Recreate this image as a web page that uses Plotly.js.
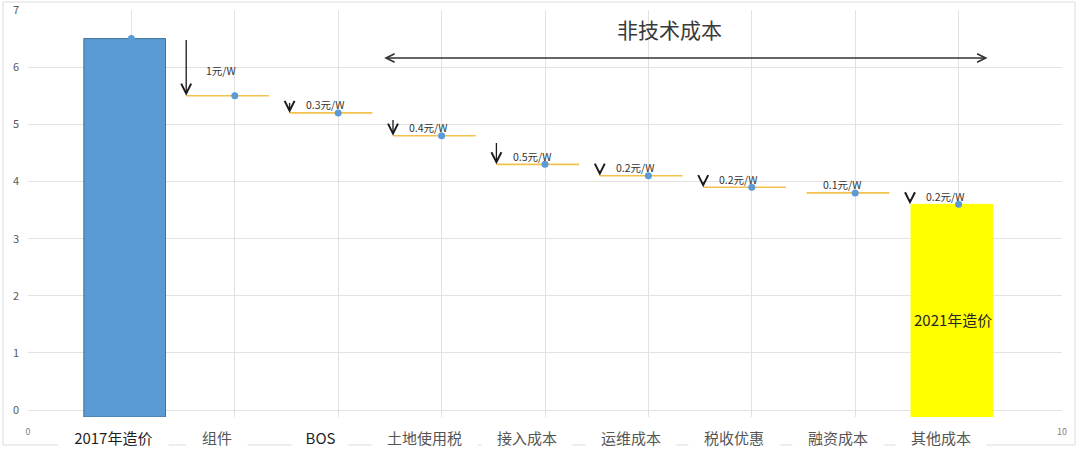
<!DOCTYPE html>
<html>
<head>
<meta charset="utf-8">
<script src="https://cdn.plot.ly/plotly-3.0.1.min.js"></script>
<style>
html, body { margin: 0; padding: 0; background: #fff; }
#graph_area { width: 1080px; height: 449px; }
</style>
</head>
<body>
<div id="graph_area"></div>
<script>
// 造价分解 (元/W)
const steps = ["2017年造价", "组件", "BOS", "土地使用税", "接入成本", "运维成本", "税收优惠", "融资成本", "其他成本"];
const stepX = [1, 2, 3, 4, 5, 6, 7, 8, 9];
const price = [6.5, 5.5, 5.2, 4.8, 4.3, 4.1, 3.9, 3.8, 3.6];
const drop = [null, 1, 0.3, 0.4, 0.5, 0.2, 0.2, 0.1, 0.2];
const dropUnit = "元/W";
const groupTitle = "非技术成本";
const endLabel = "2021年造价";
const xTicks = [0, 1, 2, 3, 4, 5, 6, 7, 8, 9, 10];
const yTicks = [0, 1, 2, 3, 4, 5, 6, 7];

const FONT = '"Noto Sans CJK SC", "Noto Sans", sans-serif';
const BASE = -0.12;
const last = price.length - 1;

// rough text width so the white label boxes break the bottom frame line
function textWidth(s, size) {
    let w = 0;
    for (const ch of s) w += ch.charCodeAt(0) > 255 ? size : size * 0.56;
    return w;
}

const bars = {
    type: "bar",
    x: [stepX[0], stepX[last]],
    y: [price[0] - BASE, price[last] - BASE],
    base: BASE,
    width: 0.79,
    offset: -0.46,
    marker: {
        color: ["#5B9BD5", "#FFFF00"],
        line: { color: ["#41719C", "#FFFF00"], width: 1 },
    },
    hoverinfo: "skip",
};

// horizontal step lines
const lx = [], ly = [];
for (let i = 1; i < last; i++) {
    lx.push(stepX[i] - 0.47, stepX[i] + 0.33, null);
    ly.push(price[i], price[i], null);
}
const stepLines = {
    type: "scatter",
    mode: "lines",
    x: lx,
    y: ly,
    line: { color: "#F2C14E", width: 1.6 },
    hoverinfo: "skip",
};

const dots = {
    type: "scatter",
    mode: "markers",
    x: stepX,
    y: price,
    marker: { size: 7, color: "#5B9BD5" },
};

const annotations = [];

for (let i = 1; i <= last; i++) {
    const ax = stepX[i] - 0.47;
    annotations.push({
        x: ax, y: price[i], xref: "x", yref: "y",
        ax: ax, ay: i === 1 ? price[i - 1] : price[i - 1] - 0.1,
        axref: "x", ayref: "y",
        text: "", showarrow: true,
        arrowhead: 5, arrowsize: 1.5, arrowwidth: 1.3, arrowcolor: "#1a1a1a",
        standoff: 0, startstandoff: 0,
    });
    annotations.push({
        x: stepX[i] - 0.13,
        y: i === 1 ? (price[i - 1] + price[i]) / 2 - 0.05 : price[i],
        xref: "x", yref: "y",
        yshift: i === 1 ? 0 : 8,
        text: drop[i] + dropUnit, showarrow: false,
        font: { family: FONT, size: 10.5, color: "#333333" },
    });
}

steps.forEach((s, i) => {
    annotations.push({
        x: stepX[i] - 0.17, y: -0.049, xref: "x", yref: "paper",
        yanchor: "middle",
        text: s, showarrow: false,
        bgcolor: "#ffffff",
        width: textWidth(s, 15) + 28, height: 20,
        font: { family: FONT, size: 15, color: (i === 0 || i === 2) ? "#1f1f1f" : "#555555" },
    });
});

annotations.push({
    x: 9.28, y: 6.16, xref: "x", yref: "y",
    ax: 3.43, ay: 6.16, axref: "x", ayref: "y",
    text: "", showarrow: true, arrowside: "end+start",
    arrowhead: 5, startarrowhead: 5, arrowsize: 1.3, startarrowsize: 1.3,
    arrowwidth: 1.3, arrowcolor: "#333333",
    standoff: 0, startstandoff: 0,
});
annotations.push({
    x: 6.2, y: 6.66, xref: "x", yref: "y",
    text: groupTitle, showarrow: false,
    font: { family: FONT, size: 21, color: "#3a3a3a" },
});
annotations.push({
    x: stepX[last] - 0.05, y: 1.58, xref: "x", yref: "y",
    text: endLabel, showarrow: false,
    font: { family: FONT, size: 15, color: "#262626" },
});

const layout = {
    width: 1080,
    height: 449,
    margin: { l: 28, r: 18, t: 10, b: 32 },
    paper_bgcolor: "#ffffff",
    plot_bgcolor: "#ffffff",
    showlegend: false,
    bargap: 0,
    xaxis: {
        range: [0, 10],
        tickvals: xTicks,
        ticktext: xTicks.map(v => (v === 0 || v === 10) ? String(v) : ""),
        showgrid: true, gridcolor: "#e2e2e2", gridwidth: 1,
        zeroline: false, showline: false, ticks: "",
        ticklabelstandoff: 8,
        tickfont: { family: FONT, size: 9, color: "#808080" },
    },
    yaxis: {
        range: [BASE, 7],
        tickvals: yTicks,
        showgrid: true, gridcolor: "#e2e2e2", gridwidth: 1,
        zeroline: false, showline: false, ticks: "",
        ticklabelstandoff: 8,
        tickfont: { family: FONT, size: 11, color: "#595959" },
    },
    shapes: [{
        type: "rect", xref: "paper", yref: "paper",
        x0: -0.0242, x1: 1.0126, y0: -0.0688, y1: 1.0197,
        line: { color: "#dcdcdc", width: 1 },
        layer: "below",
    }],
    annotations: annotations,
};

Plotly.newPlot("graph_area", [bars, stepLines, dots], layout, { staticPlot: true, displayModeBar: false });
</script>
</body>
</html>
